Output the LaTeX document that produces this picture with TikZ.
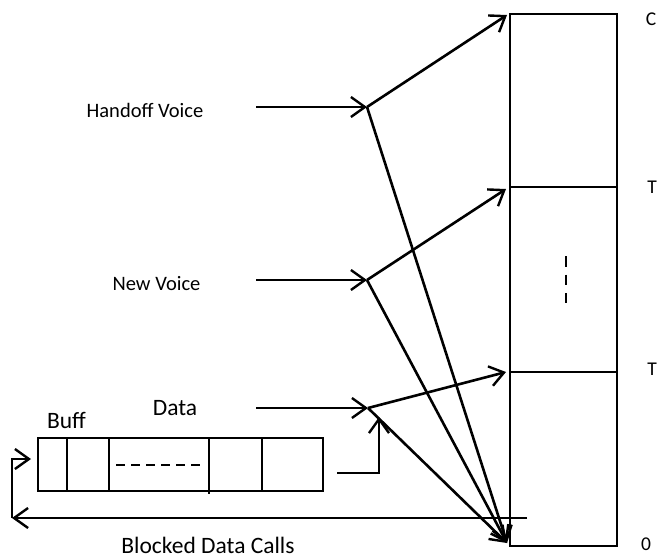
\documentclass[tikz,border=0pt]{standalone}
\usepackage{fontspec}
\setmainfont{Carlito}
\usetikzlibrary{arrows.meta}
\begin{document}
\begin{tikzpicture}[x=1pt,y=-1pt,
  line width=2.6pt,
  barb/.style={-{Straight Barb[length=14pt,width=20pt,line width=2.4pt]}},
  lbl/.style={inner sep=0pt,anchor=base},
  smalllbl/.style={lbl,font=\fontsize{20.5}{24}\selectfont},
  biglbl/.style={lbl,font=\fontsize{23.5}{27}\selectfont},
  edgelbl/.style={lbl,font=\fontsize{19.5}{22}\selectfont}]
\useasboundingbox (0,0) rectangle (658,558);

% channel stack on the right
\draw (510,14) rectangle (617,546);
\draw (510,187) -- (617,187);
\draw (510,372) -- (617,372);
\draw[dash pattern=on 10.5pt off 8pt,line width=2.4pt] (566,256) -- (566,303);

% points on the stack
\coordinate (top)  at (507,15);
\coordinate (tone) at (506,189);
\coordinate (ttwo) at (506,372);
\coordinate (bot)  at (507,543);

% stack labels
\node[edgelbl] (lc) at (651,25) {C};
\node[edgelbl] (lt1) at (652,193) {T};
\node[edgelbl] (lt2) at (652,375) {T};
\node[edgelbl] (l0) at (646,550) {0};

% traffic labels
\node[smalllbl] (hv) at (145,117) {Handoff Voice};
\node[smalllbl] (nv) at (156.5,290) {New Voice};
\node[biglbl] (dt) at (175,415) {Data};
\node[biglbl] (bf) at (66.5,428) {Buff};
\node[biglbl] (bd) at (208,553) {Blocked Data Calls};

% arrival arrows and branching points
\coordinate (hs) at (256,107);
\coordinate (hj) at (367,107);
\coordinate (ns) at (256,280);
\coordinate (nj) at (367,280);
\coordinate (ds) at (256,408);
\coordinate (dj) at (368,408);
\draw[barb] (hs) -- (hj);
\draw[barb] (ns) -- (nj);
\draw[barb] (ds) -- (dj);

\draw[barb] (hj) -- (top);
\draw[barb] (nj) -- (tone);
\draw[barb] (dj) -- (ttwo);
\draw[barb] (hj) -- (bot);
\draw[barb] (nj) -- (bot);
\draw[barb] (dj) -- (bot);

% data buffer
\draw (38,438) rectangle (323,491);
\draw (67,438) -- (67,491);
\draw (109,438) -- (109,491);
\draw (209,438) -- (209,494);
\draw (262,438) -- (262,491);
\draw[dash pattern=on 9pt off 6pt,line width=2.4pt] (116,465) -- (201,465);

% buffer output back to the data arrival point
\coordinate (bo) at (337,473);
\coordinate (bc) at (379,473);
\coordinate (bu) at (379,417);
\draw[barb] (bo) -- (bc) -- (bu);

% blocked data calls returned to the buffer
\coordinate (rs) at (527,518);
\coordinate (rl) at (12,518);
\coordinate (rt) at (12,459);
\coordinate (ri) at (31,459);
\draw[barb] (rs) -- (rl);
\draw[barb] (rl) -- (rt) -- (ri);
\end{tikzpicture}
\end{document}
